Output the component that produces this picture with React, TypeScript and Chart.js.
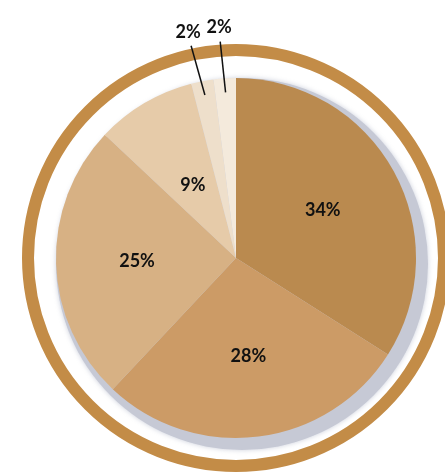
import React, { useEffect, useRef } from "react";
import { Chart, registerables } from "chart.js";

Chart.register(...registerables);

const categories = ["A", "B", "C", "D", "E", "F"];
const values = [34, 28, 25, 9, 2, 2];
const labels = ["34%", "28%", "25%", "9%", "2%", "2%"];
const colors = ["#ba8a4f", "#cc9b66", "#d7b184", "#e6cba9", "#eedfcb", "#f4eadc"];
const outsideLabels = [false, false, false, false, true, true];

const decorPlugin = {
  id: "decor",
  beforeDatasetsDraw(chart: any) {
    const arc = chart.getDatasetMeta(0).data[0];
    if (!arc) return;
    const { x, y, outerRadius } = arc;
    const ctx = chart.ctx;
    ctx.save();
    // outer brown ring
    ctx.beginPath();
    ctx.arc(x, y, outerRadius + 28, 0, Math.PI * 2);
    ctx.lineWidth = 12;
    ctx.strokeStyle = "#c38c47";
    ctx.stroke();
    // grey shadow behind pie
    ctx.beginPath();
    ctx.arc(x + 6, y + 6, outerRadius + 6, 0, Math.PI * 2);
    ctx.fillStyle = "#c6c9d5";
    ctx.shadowColor = "rgba(190,195,210,0.8)";
    ctx.shadowBlur = 5;
    ctx.fill();
    ctx.restore();
  },
  afterDatasetsDraw(chart: any) {
    const meta = chart.getDatasetMeta(0);
    const ctx = chart.ctx;
    ctx.save();
    ctx.font = "bold 18px Lato, 'DejaVu Sans', sans-serif";
    ctx.fillStyle = "#111";
    ctx.textAlign = "center";
    ctx.textBaseline = "middle";
    meta.data.forEach((el: any, i: number) => {
      const { x, y, startAngle, endAngle, outerRadius } = el;
      const mid = (startAngle + endAngle) / 2;
      if (outsideLabels[i]) {
        const a = mid - (i === 4 ? 0.02 : 0.01);
        ctx.beginPath();
        ctx.moveTo(x + Math.cos(mid) * (outerRadius - 14), y + Math.sin(mid) * (outerRadius - 14));
        ctx.lineTo(x + Math.cos(a) * (outerRadius + 37), y + Math.sin(a) * (outerRadius + 37));
        ctx.lineWidth = 1.5;
        ctx.strokeStyle = "#111";
        ctx.stroke();
        ctx.fillText(labels[i], x + Math.cos(a) * (outerRadius + 51), y + Math.sin(a) * (outerRadius + 51));
      } else {
        const r = outerRadius * (i === 3 ? 0.47 : 0.55);
        ctx.fillText(labels[i], x + Math.cos(mid) * r, y + Math.sin(mid) * r);
      }
    });
    ctx.restore();
  },
};

export default function App() {
  const ref = useRef<HTMLCanvasElement>(null);
  useEffect(() => {
    if (!ref.current) return;
    const chart = new Chart(ref.current, {
      type: "pie",
      data: {
        labels: categories,
        datasets: [
          {
            data: values,
            backgroundColor: colors,
            borderWidth: 0,
          },
        ],
      },
      options: {
        animation: false,
        responsive: false,
        layout: { padding: { left: 56, right: 29, top: 78, bottom: 36 } },
        plugins: { legend: { display: false }, tooltip: { enabled: false } },
      },
      plugins: [decorPlugin],
    });
    return () => chart.destroy();
  }, []);
  return (
    <div style={{ position: "fixed", left: 0, top: 0, width: 445, height: 474, background: "#fff" }}>
      <canvas ref={ref} width={445} height={474} />
    </div>
  );
}
